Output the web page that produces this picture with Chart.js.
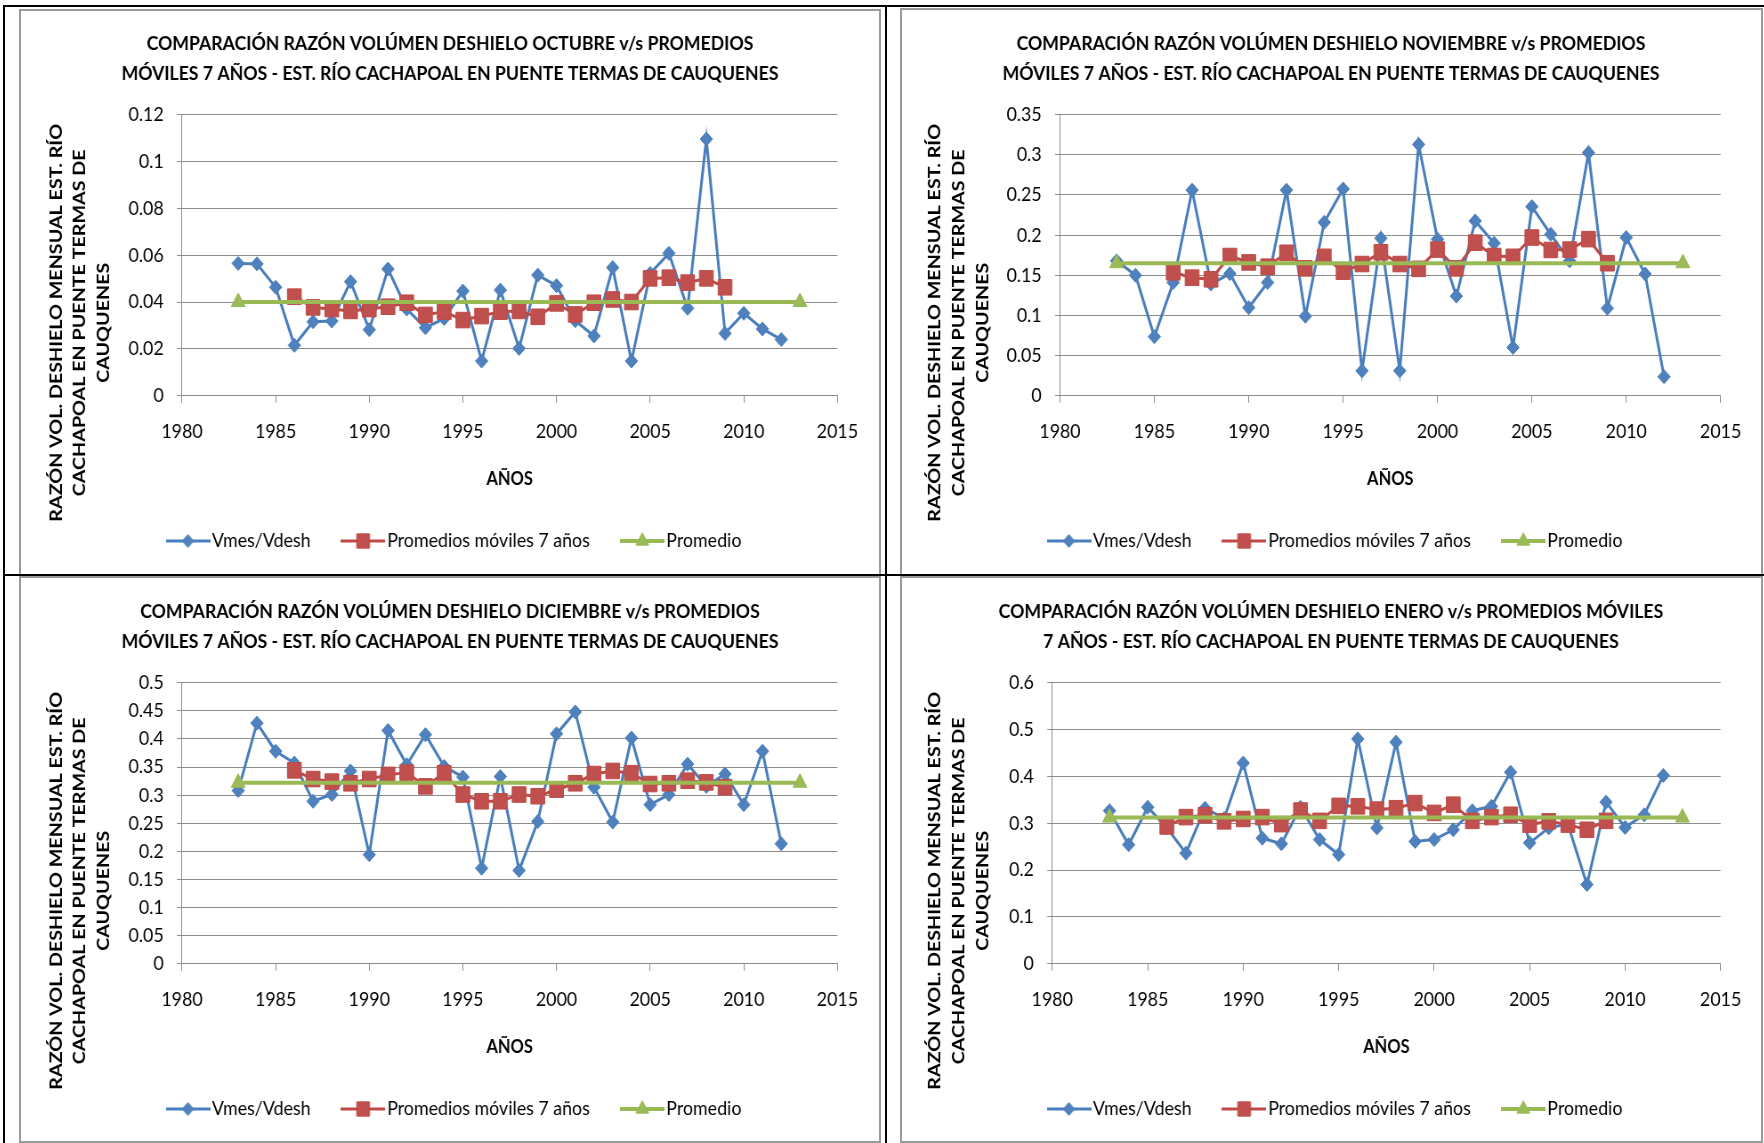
<!DOCTYPE html>
<html><head><meta charset="utf-8">
<script src="https://cdn.jsdelivr.net/npm/chart.js@4.4.0/dist/chart.umd.min.js"></script>
<style>
html,body{margin:0;padding:0;background:#fff;}
body{width:1764px;height:1143px;position:relative;overflow:hidden;}
.box{position:absolute;box-sizing:border-box;border:2px solid #9a9a9a;}
.blk{position:absolute;background:#000;}
canvas{position:absolute;transform:scaleX(0.89);transform-origin:0 0;}
</style></head><body>
<div class="box" style="left:19px;top:9px;width:862px;height:568px"></div>
<div class="box" style="left:900px;top:8px;width:863px;height:569px"></div>
<div class="box" style="left:19px;top:576px;width:862px;height:567px"></div>
<div class="box" style="left:900px;top:576px;width:863px;height:567px"></div>
<div class="blk" style="left:3px;top:5px;width:2px;height:1138px"></div>
<div class="blk" style="left:3px;top:5px;width:1761px;height:2px"></div>
<div class="blk" style="left:885px;top:5px;width:2px;height:1138px"></div>
<div class="blk" style="left:3px;top:574px;width:1761px;height:2px"></div>
<canvas id="c1" width="964" height="564" style="left:21px;top:10px"></canvas>
<canvas id="c2" width="964" height="564" style="left:902px;top:10px"></canvas>
<canvas id="c3" width="964" height="564" style="left:21px;top:578px"></canvas>
<canvas id="c4" width="964" height="564" style="left:902px;top:578px"></canvas>
<script>
// ---------- data ----------
const years = [1983,1984,1985,1986,1987,1988,1989,1990,1991,1992,1993,1994,1995,1996,1997,1998,1999,2000,2001,2002,2003,2004,2005,2006,2007,2008,2009,2010,2011,2012];
const pmYears = [1986,1987,1988,1989,1990,1991,1992,1993,1994,1995,1996,1997,1998,1999,2000,2001,2002,2003,2004,2005,2006,2007,2008,2009];
const promYears = [1983, 2013];

const octV = [0.0565,0.0563,0.0463,0.0215,0.0316,0.0319,0.0487,0.0282,0.0541,0.037,0.029,0.033,0.0447,0.0148,0.0451,0.0202,0.0515,0.047,0.032,0.0255,0.0547,0.0148,0.0522,0.0608,0.0373,0.1096,0.0266,0.0352,0.0285,0.024];
const octPM = [0.0423,0.0377,0.037,0.0362,0.037,0.038,0.0397,0.0345,0.0359,0.0323,0.034,0.0359,0.0362,0.0337,0.0394,0.0347,0.0397,0.0411,0.04,0.0501,0.0504,0.0483,0.0501,0.0463];
const octProm = [0.04, 0.04];

const novV = [0.168,0.150,0.0735,0.141,0.256,0.139,0.152,0.1096,0.141,0.256,0.099,0.216,0.2575,0.031,0.196,0.031,0.313,0.195,0.124,0.2176,0.19,0.060,0.2355,0.201,0.168,0.3027,0.109,0.197,0.1516,0.0237];
const novPM = [0.1537,0.147,0.145,0.174,0.166,0.1607,0.178,0.1586,0.173,0.1545,0.164,0.1786,0.164,0.158,0.182,0.1586,0.1906,0.174,0.173,0.197,0.1815,0.182,0.195,0.165];
const novProm = [0.165, 0.165];

const decV = [0.308,0.428,0.378,0.357,0.289,0.301,0.343,0.194,0.415,0.354,0.4075,0.351,0.332,0.170,0.333,0.166,0.253,0.409,0.448,0.314,0.252,0.4015,0.283,0.301,0.355,0.3155,0.3375,0.283,0.378,0.2135];
const decPM = [0.344,0.3286,0.324,0.321,0.3286,0.336,0.340,0.3155,0.339,0.301,0.289,0.289,0.301,0.298,0.3096,0.321,0.3375,0.343,0.339,0.3197,0.321,0.3256,0.3226,0.314];
const decProm = [0.322, 0.322];

const janV = [0.3267,0.254,0.334,0.29,0.236,0.332,0.31,0.4285,0.268,0.256,0.334,0.265,0.233,0.480,0.29,0.473,0.261,0.265,0.286,0.3267,0.336,0.409,0.258,0.29,0.298,0.169,0.345,0.291,0.318,0.402];
const janPM = [0.293,0.313,0.317,0.304,0.309,0.313,0.298,0.327,0.305,0.337,0.336,0.329,0.332,0.343,0.322,0.3395,0.305,0.313,0.318,0.297,0.304,0.297,0.286,0.305];
const janProm = [0.312, 0.312];

const seriesNames = ['Vmes/Vdesh', 'Promedios móviles 7 años', 'Promedio'];
const xTitle = 'AÑOS';
const yTitleLines = ['RAZÓN VOL. DESHIELO MENSUAL EST. RÍO', 'CACHAPOAL EN PUENTE TERMAS DE', 'CAUQUENES'];
const octTitle = ['COMPARACIÓN RAZÓN VOLÚMEN DESHIELO OCTUBRE v/s PROMEDIOS', 'MÓVILES 7 AÑOS - EST. RÍO CACHAPOAL EN PUENTE TERMAS DE CAUQUENES'];
const novTitle = ['COMPARACIÓN RAZÓN VOLÚMEN DESHIELO NOVIEMBRE v/s PROMEDIOS', 'MÓVILES 7 AÑOS - EST. RÍO CACHAPOAL EN PUENTE TERMAS DE CAUQUENES'];
const decTitle = ['COMPARACIÓN RAZÓN VOLÚMEN DESHIELO DICIEMBRE v/s PROMEDIOS', 'MÓVILES 7 AÑOS - EST. RÍO CACHAPOAL EN PUENTE TERMAS DE CAUQUENES'];
const janTitle = ['COMPARACIÓN RAZÓN VOLÚMEN DESHIELO ENERO v/s PROMEDIOS MÓVILES', '7 AÑOS - EST. RÍO CACHAPOAL EN PUENTE TERMAS DE CAUQUENES'];
const xRange = [1980, 2015, 5];
const octY = [0, 0.12, 0.02];
const novY = [0, 0.35, 0.05];
const decY = [0, 0.5, 0.05];
const janY = [0, 0.6, 0.1];

// ---------- styling ----------
const FONT = 'Lato';
Chart.defaults.font.family = FONT;
Chart.defaults.color = '#000';
const GRID = '#8c8c8c';
const styles = [
  {line:'#4A7EBB', fill:'#4F81BD', point:'rectRot', r:7, w:3, order:3},
  {line:'#BE4B48', fill:'#C0504D', point:'rect', r:11, w:3, order:2},
  {line:'#98B954', fill:'#9BBB59', point:'triangle', r:9, w:4, order:1}
];

function legendIcon(st) {
  const cv = document.createElement('canvas');
  cv.width = 50; cv.height = 22;
  const g = cv.getContext('2d');
  g.strokeStyle = st.line; g.lineWidth = st.w;
  g.beginPath(); g.moveTo(0, 11); g.lineTo(50, 11); g.stroke();
  g.fillStyle = st.fill; g.strokeStyle = st.line; g.lineWidth = 1;
  Chart.helpers.drawPoint(g, {pointStyle: st.point, radius: st.r * 0.92, rotation: 0, borderWidth: 1}, 25, 11);
  return cv;
}

const yTitlePlugin = {
  id: 'yTitle',
  afterLayout(chart) {
    // nudge the legend row slightly right, as in the original
    const lg = chart.legend;
    if (lg) { lg.left += 8; lg.right += 8; }
  },
  afterDraw(chart, args, opts) {
    const c = chart.ctx;
    c.save();
    c.translate(opts.x, opts.y);
    c.rotate(-Math.PI / 2);
    c.font = 'bold 19.7px ' + FONT;
    c.fillStyle = '#000';
    c.textAlign = 'center';
    c.textBaseline = 'middle';
    yTitleLines.forEach((t, i) => c.fillText(t, 0, (i - 1) * 26.7));
    c.restore();
  }
};

function makeChart(id, title, v, pm, prom, yr, left, right, ytx) {
  const sets = [[years, v], [pmYears, pm], [promYears, prom]];
  const datasets = sets.map((s, k) => ({
    label: seriesNames[k],
    data: s[0].map((x, i) => ({x: x, y: s[1][i]})),
    borderColor: styles[k].line,
    backgroundColor: styles[k].fill,
    pointBackgroundColor: styles[k].fill,
    pointBorderColor: styles[k].line,
    pointBorderWidth: 1,
    borderWidth: styles[k].w,
    pointStyle: styles[k].point,
    pointRadius: styles[k].r,
    pointHoverRadius: styles[k].r,
    tension: 0,
    order: styles[k].order,
    clip: false
  }));
  const fmt = v => String(+Number(v).toFixed(4));
  return new Chart(document.getElementById(id), {
    type: 'line',
    data: {datasets},
    options: {
      responsive: false, animation: false, devicePixelRatio: 1,
      layout: {padding: {left: 0, right: 0, top: 0, bottom: 13}},
      plugins: {
        tooltip: {enabled: false},
        title: {display: true, text: title, color: '#000',
          font: {family: FONT, size: 19.85, weight: 'bold', lineHeight: '30.1px'},
          padding: {top: 18.25, bottom: 26.25}},
        legend: {position: 'bottom',
          labels: {usePointStyle: true, pointStyleWidth: 34, padding: 42, color: '#000',
            font: {family: FONT, size: 20},
            generateLabels(chart) {
              return chart.data.datasets.map((ds, i) => ({
                text: ds.label, pointStyle: legendIcon(styles[i]), fillStyle: ds.backgroundColor,
                strokeStyle: ds.borderColor, lineWidth: 0, hidden: false, datasetIndex: i, fontColor: '#000'
              }));
            }}},
        yTitle: {x: ytx, y: 312.8}
      },
      scales: {
        x: {type: 'linear', min: xRange[0], max: xRange[1],
          ticks: {stepSize: xRange[2], callback: v => String(v), font: {size: 20}, color: '#000', padding: 17.3, maxRotation: 0, autoSkip: false},
          grid: {drawOnChartArea: false, drawTicks: true, tickLength: 7, color: GRID},
          border: {color: GRID, width: 1},
          title: {display: true, text: xTitle, color: '#000', font: {size: 18.5, weight: 'bold', lineHeight: 1.1}, padding: {top: 0, bottom: 0}},
          afterFit: s => { s.height = 93.3; }},
        y: {type: 'linear', min: yr[0], max: yr[1],
          ticks: {stepSize: yr[2], callback: fmt, font: {size: 20}, color: '#000', padding: 15},
          grid: {color: GRID, tickLength: 5.6},
          border: {color: GRID, width: 1},
          afterFit: s => { s.width = left; }},
        yR: {type: 'linear', position: 'right', display: true,
          grid: {display: false}, border: {display: false}, ticks: {display: false},
          afterFit: s => { s.width = right; }}
      }
    },
    plugins: [yTitlePlugin]
  });
}

makeChart('c1', octTitle, octV, octPM, octProm, octY, 180.9, 46.7, 66);
makeChart('c2', novTitle, novV, novPM, novProm, novY, 177.5, 44.2, 63.5);
makeChart('c3', decTitle, decV, decPM, decProm, decY, 180.9, 46.7, 66);
makeChart('c4', janTitle, janV, janPM, janProm, janY, 168.8, 44.2, 63.5);
</script>
</body></html>
